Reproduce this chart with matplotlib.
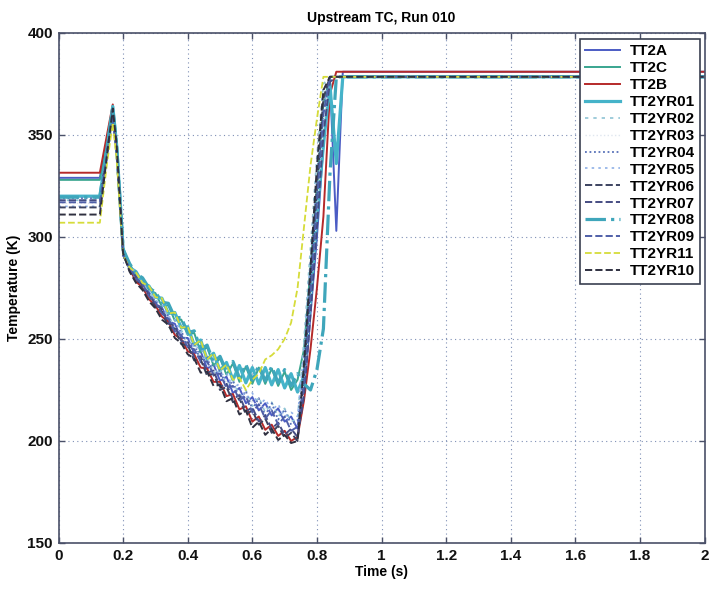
import matplotlib
matplotlib.use("Agg")
import matplotlib.pyplot as plt

plt.rcParams["font.family"] = ["Liberation Sans", "DejaVu Sans"]
plt.rcParams["font.weight"] = "bold"

# time base shared by all thermocouple traces (s)
t = [0.00, 0.128, 0.15, 0.168, 0.18, 0.20,
     0.22, 0.24, 0.26, 0.28, 0.30, 0.32, 0.34, 0.36, 0.38, 0.40,
     0.42, 0.44, 0.46, 0.48, 0.50, 0.52, 0.54, 0.56, 0.58, 0.60,
     0.62, 0.64, 0.66, 0.68, 0.70, 0.72, 0.74,
     0.76, 0.78, 0.80, 0.82, 0.84, 0.86, 0.88, 2.00]

# temperatures (K)
TT2A = [329, 329, 348, 362, 344, 293,
        284, 281, 275.5, 273, 267, 265.5, 258.5, 257.5, 250.5, 250.5,
        243, 244, 235.5, 237.5, 229.5, 231.5, 223.5, 226, 218.5, 221.5,
        215, 218.5, 212.5, 216, 209.5, 212, 206,
        222, 262, 300, 345, 378, 303, 381, 381]
TT2C = [328, 328, 345, 360, 342, 292,
        287, 281, 279.5, 274, 272.5, 266, 266.5, 259, 259.5, 252,
        253, 243.5, 246, 237, 240.5, 232.5, 238, 229, 236.5, 228,
        236, 228, 235.5, 227, 234, 225, 230,
        245, 285, 325, 365, 378.5, 378.5, 378.5, 378.5]
TT2B = [331.5, 331.5, 350, 365, 346, 293,
        284.5, 278, 275.5, 269.5, 266.5, 261, 258.5, 252, 250, 244,
        242.5, 236, 235.5, 229, 229, 222, 223, 215.5, 217, 209.5,
        212, 205.5, 208, 202.5, 205, 200, 202,
        220, 245, 275, 310, 370, 381, 381, 381]
TT2YR01 = [320, 320, 343, 364, 345, 294,
           285, 283, 277.5, 276, 270.5, 270, 262.5, 263, 255.5, 256,
           247, 249.5, 240, 243, 234.5, 238.5, 230, 237, 228.5, 236,
           228, 236, 227.5, 235, 226, 233, 224,
           232, 270, 310, 345, 375, 336, 378.5, 378.5]
TT2YR02 = [318, 318, 340, 358, 340, 292,
           285.5, 280.5, 277.5, 272.5, 269.5, 263.5, 262, 255, 254.5, 247.5,
           248.5, 240, 241.5, 233.5, 235.5, 227.5, 230, 222, 225, 217,
           221.5, 214, 219, 212, 216, 209.5, 211,
           250, 295, 340, 375, 378.5, 378.5, 378.5, 378.5]
TT2YR03 = [316.5, 316.5, 339, 359, 341, 292,
           284.5, 280, 276, 272, 268, 264, 260, 256, 252, 248.5,
           245, 241.5, 238, 235, 232, 229, 226, 223.5, 221, 219,
           217.5, 216, 215, 214, 212, 210, 208,
           225, 268, 312, 355, 378.5, 378.5, 378.5, 378.5]
TT2YR04 = [319, 319, 342, 361, 343, 293,
           285, 279, 277, 271, 269, 262.5, 261.5, 254, 254, 246.5,
           248, 238.5, 241, 232, 235, 226, 229.5, 220, 224.5, 215.5,
           221, 212.5, 218.5, 210.5, 215.5, 208, 210,
           235, 280, 322, 362, 378.5, 378.5, 378.5, 378.5]
TT2YR05 = [315, 315, 338, 357, 339, 291,
           286, 282.5, 277.5, 274.5, 269, 267, 261, 259.5, 253, 252.5,
           245.5, 246, 238, 239.5, 232, 233.5, 226, 228, 221, 223.5,
           217.5, 220.5, 215, 218, 212, 214, 212,
           245, 290, 330, 365, 378.5, 378.5, 378.5, 378.5]
TT2YR06 = [314.5, 314.5, 341, 362, 344, 292,
           283.5, 280, 274.5, 271.5, 265.5, 263.5, 256, 255, 247.5, 247,
           239.5, 240, 232, 233, 225, 226.5, 219, 221, 213, 215,
           208, 211, 204, 207.5, 201.5, 204, 200,
           232, 278, 325, 368, 378.5, 378.5, 378.5, 378.5]
TT2YR07 = [318, 318, 342, 360, 342, 291,
           285, 280.5, 276, 272, 267, 264.5, 257.5, 256.5, 249, 248.5,
           241, 241.5, 233.5, 234.5, 226.5, 228, 220.5, 222.5, 214.5, 216.5,
           209.5, 212.5, 206, 209, 203, 206, 202,
           222, 262, 305, 350, 376, 378.5, 378.5, 378.5]
TT2YR08 = [319.5, 319.5, 344, 363, 345, 294,
           287, 282, 280, 275, 273, 268, 267.5, 260.5, 260.5, 253,
           254, 245, 247, 238.5, 241.5, 234, 239, 231, 237.5, 230,
           237, 229.5, 236.5, 228.5, 235, 227, 233,
           228, 225, 235, 255, 330, 378.5, 378.5, 378.5]
TT2YR09 = [317, 317, 340, 358, 340, 291,
           285, 279.5, 277, 271, 268, 262.5, 260, 253.5, 252, 246,
           245, 239, 239, 232.5, 233, 226, 227, 220, 222, 214,
           218, 211, 215, 208, 212, 205, 207,
           228, 272, 318, 360, 378.5, 378.5, 378.5, 378.5]
TT2YR11 = [307, 307, 336, 356, 338, 291,
           285, 282.5, 277.5, 276, 270.5, 270, 262.5, 263, 255.5, 256,
           247, 249.5, 240, 243, 234.5, 237.5, 230, 231, 225, 230,
           233, 240, 242, 245, 250, 258, 275,
           305, 335, 358, 378.5, 378.5, 378.5, 378.5, 378.5]
TT2YR10 = [311, 311, 340, 363, 345, 292,
           283, 277.5, 274, 268.5, 265, 259.5, 257, 250.5, 248, 242.5,
           240.5, 233.5, 234, 227, 227.5, 219.5, 221, 213, 215, 206.5,
           209.5, 203, 206, 200.5, 203, 199, 200,
           238, 285, 335, 372, 378.5, 378.5, 378.5, 378.5]

# label, data, colour, linestyle, width
traces = [
    ("TT2A", TT2A, "#4b5cc4", "-", 1.4),
    ("TT2C", TT2C, "#39a58f", "-", 1.4),
    ("TT2B", TT2B, "#b52a2a", "-", 1.4),
    ("TT2YR01", TT2YR01, "#45b3c9", "-", 2.3),
    ("TT2YR02", TT2YR02, "#8fc4d4", (0, (2, 3)), 1.2),
    ("TT2YR03", TT2YR03, "#dfe6ef", ":", 1.0),
    ("TT2YR04", TT2YR04, "#5670b8", (0, (1, 1.5)), 1.3),
    ("TT2YR05", TT2YR05, "#8fb0e6", (0, (1.5, 2.5)), 1.2),
    ("TT2YR06", TT2YR06, "#3c4360", "--", 1.4),
    ("TT2YR07", TT2YR07, "#454c82", "--", 1.4),
    ("TT2YR08", TT2YR08, "#3fa6bb", "-.", 2.3),
    ("TT2YR09", TT2YR09, "#4f5fa8", "--", 1.4),
    ("TT2YR11", TT2YR11, "#d6dc3a", "--", 1.3),
    ("TT2YR10", TT2YR10, "#2f3040", "--", 1.4),
]

fig = plt.figure(figsize=(7.10, 5.89), dpi=100)
ax = fig.add_axes([0.0824, 0.0781, 0.910, 0.8659])

for name, temp, col, ls, lw in traces:
    ax.plot(t, temp, color=col, linestyle=ls, linewidth=lw, label=name)

ax.set_xlim(0, 2)
ax.set_ylim(150, 400)
ax.set_xticks([0, 0.2, 0.4, 0.6, 0.8, 1, 1.2, 1.4, 1.6, 1.8, 2])
ax.set_xticklabels(["0", "0.2", "0.4", "0.6", "0.8", "1", "1.2", "1.4", "1.6", "1.8", "2"])
ax.set_yticks([150, 200, 250, 300, 350, 400])

ax.grid(True, color="#7e8fb5", linestyle=(0, (1, 3)), linewidth=0.8)
ax.tick_params(direction="in", top=True, right=True, length=4, width=1,
               colors="#4a5068", labelcolor="#111111", labelsize=11, pad=4)
for sp in ax.spines.values():
    sp.set_color("#4a5068")
    sp.set_linewidth(1.2)

ax.set_title("Upstream TC, Run 010", fontsize=10, fontweight="bold", pad=8)
ax.set_xlabel("Time (s)", fontsize=10, fontweight="bold", labelpad=2)
ax.set_ylabel("Temperature (K)", fontsize=10, fontweight="bold", labelpad=5)

leg = ax.legend(loc="upper right", bbox_to_anchor=(0.993, 0.988), borderaxespad=0,
                fontsize=11, labelspacing=0.19, handlelength=2.3, handletextpad=0.6,
                borderpad=0.35, fancybox=False, framealpha=1)
leg.get_frame().set_edgecolor("#3a3f50")
leg.get_frame().set_linewidth(1.2)
for txt in leg.get_texts():
    txt.set_fontweight("bold")

fig.savefig("out.png", dpi=100)
